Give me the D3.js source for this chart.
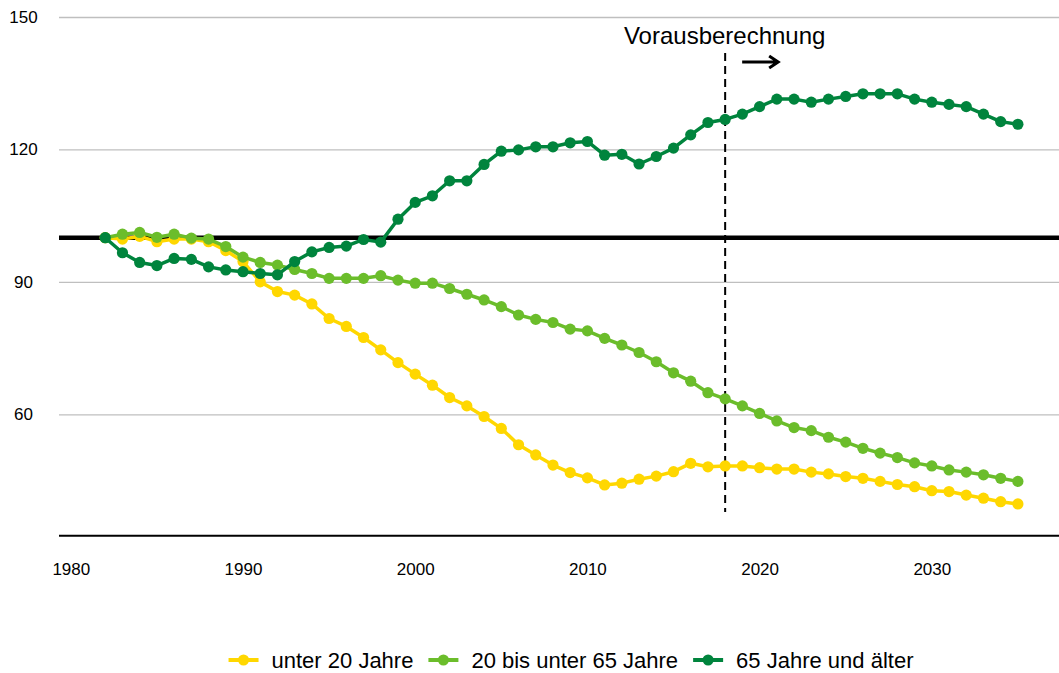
<!DOCTYPE html>
<html>
<head>
<meta charset="utf-8">
<script src="https://cdn.jsdelivr.net/npm/d3@7"></script>
<style>
body { margin: 0; background: #fff; }
svg { display: block; font-family: "Liberation Sans", Arial, sans-serif; }
</style>
</head>
<body>
<svg width="1059" height="673"></svg>
<script>
// Bevölkerungsentwicklung, Index 1982 = 100
let years = [1982, 1983, 1984, 1985, 1986, 1987, 1988, 1989, 1990, 1991,
    1992, 1993, 1994, 1995, 1996, 1997, 1998, 1999, 2000, 2001,
    2002, 2003, 2004, 2005, 2006, 2007, 2008, 2009, 2010, 2011,
    2012, 2013, 2014, 2015, 2016, 2017, 2018, 2019, 2020, 2021,
    2022, 2023, 2024, 2025, 2026, 2027, 2028, 2029, 2030, 2031,
    2032, 2033, 2034, 2035];

let under20 = [100, 99.7, 100.3, 99.1, 99.7, 99.7, 99.1, 97.1, 94.6, 90.0,
    87.8, 87.0, 85.0, 81.7, 79.9, 77.4, 74.6, 71.7, 69.1, 66.6,
    63.8, 61.9, 59.5, 56.8, 53.1, 50.8, 48.5, 46.8, 45.6, 44.0,
    44.4, 45.3, 46.0, 47.0, 48.9, 48.1, 48.3, 48.3, 47.9, 47.6,
    47.6, 46.9, 46.5, 45.9, 45.5, 44.8, 44.1, 43.6, 42.7, 42.5,
    41.7, 41.0, 40.2, 39.7];

let age20to65 = [100, 100.8, 101.2, 100.1, 100.8, 99.9, 99.7, 98.0, 95.6, 94.4,
    93.8, 92.8, 91.9, 90.8, 90.8, 90.8, 91.4, 90.4, 89.7, 89.7,
    88.5, 87.2, 85.9, 84.4, 82.5, 81.5, 80.8, 79.3, 78.9, 77.2,
    75.7, 74.0, 71.9, 69.4, 67.5, 64.9, 63.5, 61.9, 60.2, 58.5,
    57.0, 56.3, 54.8, 53.7, 52.3, 51.2, 50.2, 49.0, 48.3, 47.4,
    46.9, 46.3, 45.5, 44.8];

let over65 = [100, 96.6, 94.4, 93.7, 95.3, 95.1, 93.4, 92.7, 92.3, 91.9,
    91.6, 94.6, 96.8, 97.8, 98.1, 99.6, 99.0, 104.2, 108.0, 109.5,
    112.9, 112.9, 116.6, 119.6, 119.9, 120.6, 120.6, 121.5, 121.8, 118.7,
    118.9, 116.7, 118.4, 120.3, 123.3, 126.1, 126.8, 128.0, 129.7, 131.4,
    131.4, 130.7, 131.4, 132.0, 132.6, 132.6, 132.6, 131.4, 130.7, 130.2,
    129.7, 128.0, 126.3, 125.7];

let seriesNames = ["unter 20 Jahre", "20 bis unter 65 Jahre", "65 Jahre und älter"];
let seriesColors = ["#ffd700", "#6bbd2b", "#00843d"];
let yTicks = [60, 90, 120, 150];
let xTicks = [1980, 1990, 2000, 2010, 2020, 2030];
let projectionStart = 2018;
let projectionLabel = "Vorausberechnung";

let series = [under20, age20to65, over65].map(function (vals, i) {
    return {
        name: seriesNames[i],
        color: seriesColors[i],
        values: vals.map(function (v, j) { return { year: years[j], value: v }; })
    };
});

let svg = d3.select("svg");

let x = d3.scaleLinear().domain([1980, 2035]).range([70.8, 1017.9]);
let y = d3.scaleLinear().domain([32.5, 150]).range([535.7, 17]);

// gridlines + y labels
let yAxis = svg.append("g")
    .attr("transform", "translate(59,0)")
    .call(d3.axisRight(y).tickValues(yTicks).tickSize(1000).tickFormat(d3.format("d")));
yAxis.select(".domain").remove();
yAxis.selectAll(".tick line").attr("stroke", "#bfbfbf").attr("stroke-width", 1.3);
yAxis.selectAll(".tick text")
    .attr("x", -35.5)
    .attr("text-anchor", "middle")
    .attr("font-size", 17)
    .attr("fill", "#000");

// x axis line + labels
let xAxis = svg.append("g")
    .attr("transform", "translate(0," + y(32.5) + ")")
    .call(d3.axisBottom(x).tickValues(xTicks).tickSize(0).tickFormat(d3.format("d")));
xAxis.select(".domain").remove();
xAxis.append("line")
    .attr("x1", 59).attr("x2", 1059)
    .attr("stroke", "#000").attr("stroke-width", 2);
xAxis.selectAll(".tick text")
    .attr("y", 39)
    .attr("dy", 0)
    .attr("font-size", 17)
    .attr("fill", "#000");

// reference line at 100
svg.append("line")
    .attr("x1", 59).attr("x2", 1059)
    .attr("y1", y(100)).attr("y2", y(100))
    .attr("stroke", "#000").attr("stroke-width", 4.5);

// projection marker
svg.append("line")
    .attr("x1", x(projectionStart)).attr("x2", x(projectionStart))
    .attr("y1", 53).attr("y2", 512)
    .attr("stroke", "#000").attr("stroke-width", 2)
    .attr("stroke-dasharray", "8,5");

svg.append("text")
    .attr("x", x(projectionStart) - 0.5)
    .attr("y", 43.5)
    .attr("text-anchor", "middle")
    .attr("font-size", 24)
    .attr("fill", "#000")
    .text(projectionLabel);

let ax = x(projectionStart) + 17;
svg.append("path")
    .attr("d", "M" + ax + ",62 H" + (ax + 36) + " M" + (ax + 27) + ",56 L" + (ax + 36) + ",62 L" + (ax + 27) + ",68")
    .attr("fill", "none")
    .attr("stroke", "#000")
    .attr("stroke-width", 3);

// lines
let line = d3.line()
    .x(function (d) { return x(d.year); })
    .y(function (d) { return y(d.value); });

let groups = svg.selectAll("g.series")
    .data(series)
    .join("g")
    .attr("class", "series");

groups.append("path")
    .attr("d", function (d) { return line(d.values); })
    .attr("fill", "none")
    .attr("stroke", function (d) { return d.color; })
    .attr("stroke-width", 3.5)
    .attr("stroke-linejoin", "round");

groups.selectAll("circle")
    .data(function (d) { return d.values.map(function (v) { return { year: v.year, value: v.value, color: d.color }; }); })
    .join("circle")
    .attr("cx", function (d) { return x(d.year); })
    .attr("cy", function (d) { return y(d.value); })
    .attr("r", 5.6)
    .attr("fill", function (d) { return d.color; });

// legend
let legend = svg.append("g");
let lx = 0;
let items = legend.selectAll("g")
    .data(series)
    .join("g");

items.append("line")
    .attr("x1", 0).attr("x2", 30)
    .attr("stroke", function (d) { return d.color; })
    .attr("stroke-width", 4);
items.append("circle")
    .attr("cx", 15).attr("r", 5.5)
    .attr("fill", function (d) { return d.color; });
items.append("text")
    .attr("x", 43)
    .attr("y", 8)
    .attr("font-size", 22)
    .attr("fill", "#000")
    .text(function (d) { return d.name; });

items.each(function () {
    let g = d3.select(this);
    g.attr("transform", "translate(" + lx + ",0)");
    lx += 43 + g.select("text").node().getComputedTextLength() + 15;
});
lx -= 15;
legend.attr("transform", "translate(" + (571 - lx / 2) + ",660)");
</script>
</body>
</html>
